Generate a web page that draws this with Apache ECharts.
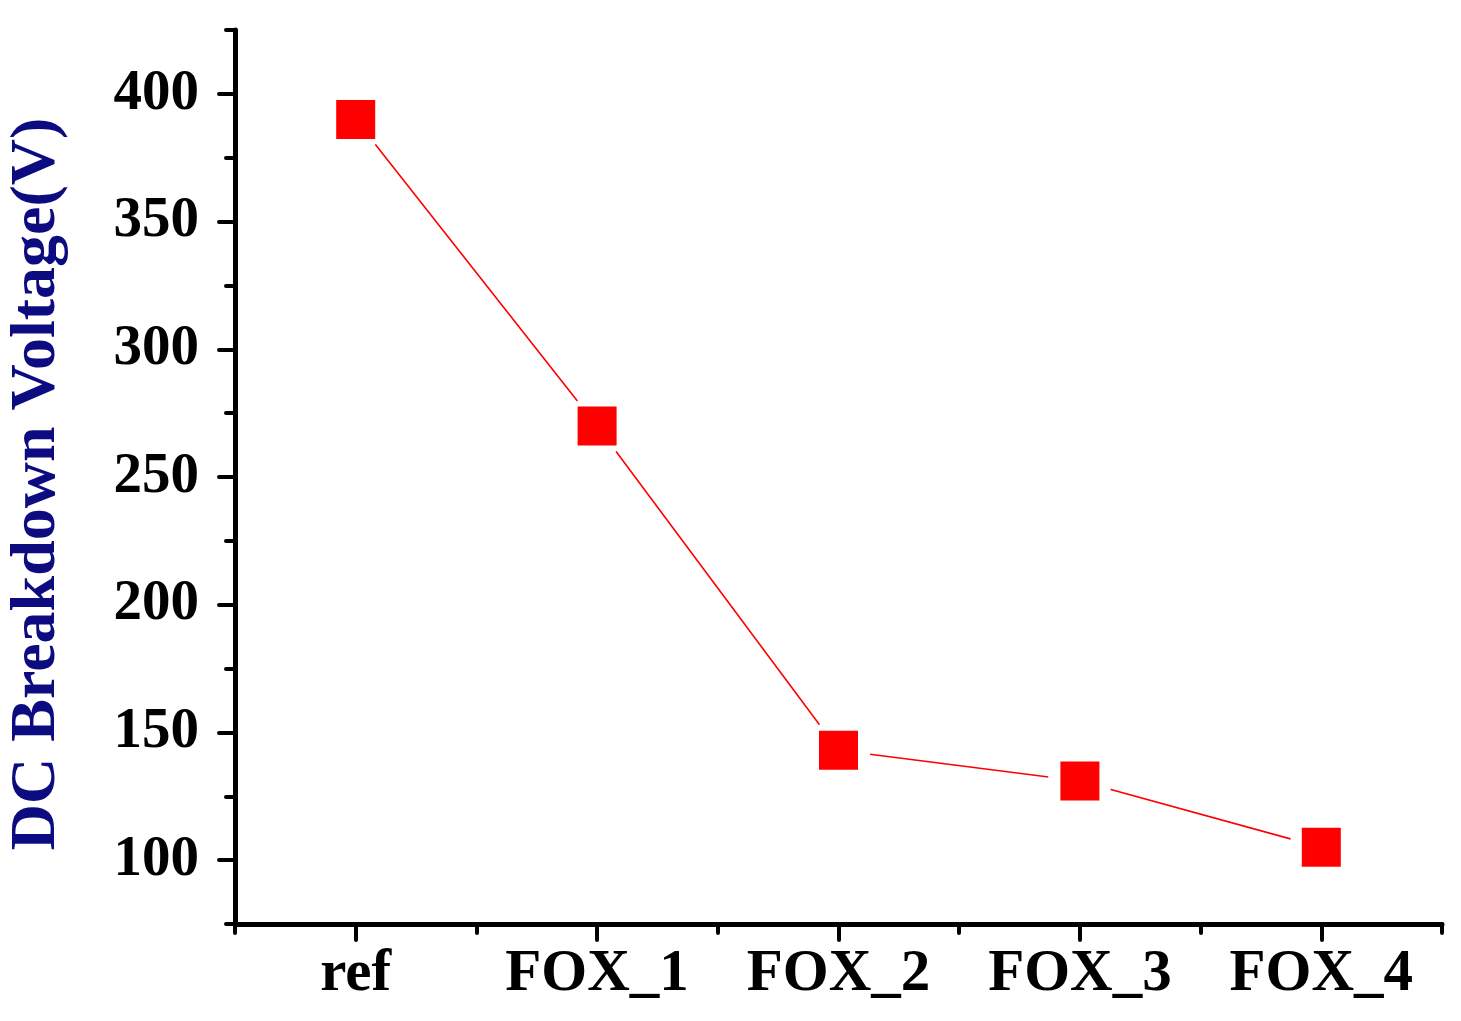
<!DOCTYPE html>
<html>
<head>
<meta charset="utf-8">
<script src="https://cdn.jsdelivr.net/npm/echarts@6/dist/echarts.min.js"></script>
<style>
  html, body { margin: 0; padding: 0; background: #fff; }
  #chart { width: 1461px; height: 1021px; }
</style>
</head>
<body>
<div id="chart"></div>
<script>
// categories and measured values
var categories = ['ref', 'FOX_1', 'FOX_2', 'FOX_3', 'FOX_4'];
var breakdownVoltage = [390, 270, 143, 131, 105];
// y ticks
var majorTicks = [100, 150, 200, 250, 300, 350, 400];
var minorTicks = [75, 125, 175, 225, 275, 325, 375, 425];

var fontFam = '"Liberation Serif", "Times New Roman", serif';

var myChart = echarts.init(document.getElementById('chart'));

var option = {
  backgroundColor: '#fff',
  animation: false,
  grid: { left: 235, right: 19, top: 30, bottom: 97, containLabel: false, outerBoundsMode: 'none' },
  xAxis: [{
    type: 'category',
    data: categories,
    boundaryGap: true,
    axisLine: { show: true, lineStyle: { color: '#000', width: 5, cap: 'round' } },
    axisTick: { show: true, alignWithLabel: true, interval: 0, length: 16, lineStyle: { color: '#000', width: 4, cap: 'round' } },
    axisLabel: { interval: 0, color: '#000', fontFamily: fontFam, fontWeight: 'bold', fontSize: 59, margin: 21 },
    splitLine: { show: false }
  }, {
    type: 'category',
    data: categories,
    position: 'bottom',
    boundaryGap: true,
    axisLine: { show: false },
    axisTick: { show: true, interval: 0, length: 9, lineStyle: { color: '#000', width: 4, cap: 'round' } },
    axisLabel: { show: false },
    splitLine: { show: false }
  }],
  yAxis: [{
    type: 'value',
    min: 75,
    max: 425,
    name: 'DC Breakdown Voltage(V)',
    nameLocation: 'middle',
    nameGap: 166,
    nameTextStyle: { color: '#0c0c80', fontFamily: fontFam, fontWeight: 'bold', fontSize: 64, padding: [0, 14, 0, 0] },
    axisLine: { show: true, lineStyle: { color: '#000', width: 5, cap: 'round' } },
    axisTick: { show: true, customValues: majorTicks, length: 16, lineStyle: { color: '#000', width: 4, cap: 'round' } },
    axisLabel: { customValues: majorTicks, color: '#000', fontFamily: fontFam, fontWeight: 'bold', fontSize: 57, margin: 36 },
    splitLine: { show: false }
  }, {
    type: 'value',
    min: 75,
    max: 425,
    position: 'left',
    axisLine: { show: false },
    axisTick: { show: true, customValues: minorTicks, length: 9, lineStyle: { color: '#000', width: 4, cap: 'round' } },
    axisLabel: { show: false },
    splitLine: { show: false }
  }],
  series: [{
    // connecting line; white circles leave the gap around each marker
    type: 'line',
    data: breakdownVoltage,
    xAxisIndex: 0,
    yAxisIndex: 0,
    symbol: 'circle',
    symbolSize: 64,
    itemStyle: { color: '#fff' },
    lineStyle: { color: '#ff0000', width: 1.6 },
    z: 2
  }, {
    type: 'scatter',
    data: breakdownVoltage,
    xAxisIndex: 0,
    yAxisIndex: 0,
    symbol: 'rect',
    symbolSize: 39,
    itemStyle: { color: '#ff0000', opacity: 1 },
    z: 3
  }]
};

myChart.setOption(option);
</script>
</body>
</html>
